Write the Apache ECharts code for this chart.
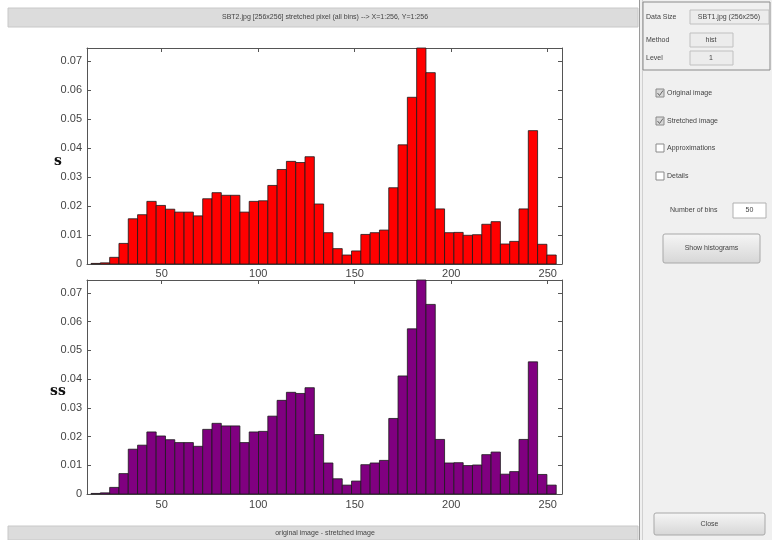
<!DOCTYPE html>
<html>
<head>
<meta charset="utf-8">
<script src="https://cdn.jsdelivr.net/npm/echarts@6/dist/echarts.min.js"></script>
<style>
  html, body { margin: 0; padding: 0; background: #ffffff; }
  #main { width: 772px; height: 540px; }
</style>
</head>
<body>
<div id="main"></div>
<script>
// histogram settings (50 bins)
var binLow = 13.4;
var binWidth = 4.82;
var xMin = 11.3;
var xMax = 257.4;
var yTicks = [0, 0.01, 0.02, 0.03, 0.04, 0.05, 0.06, 0.07];
var xTicks = [50, 100, 150, 200, 250];

// original image (s)
var sValues = [
  0.0002, 0.0004, 0.0023, 0.0071, 0.0156, 0.0170, 0.0216, 0.0202, 0.0189, 0.0179,
  0.0179, 0.0166, 0.0225, 0.0246, 0.0237, 0.0237, 0.0179, 0.0216, 0.0218, 0.0271,
  0.0326, 0.0354, 0.0350, 0.0370, 0.0207, 0.0108, 0.0053, 0.0031, 0.0045, 0.0102,
  0.0108, 0.0117, 0.0263, 0.0411, 0.0575, 0.0745, 0.0660, 0.0190, 0.0108, 0.0109,
  0.0099, 0.0101, 0.0137, 0.0146, 0.0069, 0.0078, 0.0190, 0.0460, 0.0068, 0.0031
];
// stretched image (ss)
var ssValues = [
  0.0002, 0.0004, 0.0023, 0.0071, 0.0156, 0.0170, 0.0216, 0.0202, 0.0189, 0.0179,
  0.0179, 0.0166, 0.0225, 0.0246, 0.0237, 0.0237, 0.0179, 0.0216, 0.0218, 0.0271,
  0.0326, 0.0354, 0.0350, 0.0370, 0.0207, 0.0108, 0.0053, 0.0031, 0.0045, 0.0102,
  0.0108, 0.0117, 0.0263, 0.0411, 0.0575, 0.0745, 0.0660, 0.0190, 0.0108, 0.0109,
  0.0099, 0.0101, 0.0137, 0.0146, 0.0069, 0.0078, 0.0190, 0.0460, 0.0068, 0.0031
];

function toBins(values) {
  return values.map(function (v, i) {
    return [binLow + i * binWidth, binLow + (i + 1) * binWidth, v];
  });
}

function isTick(list, v) {
  for (var i = 0; i < list.length; i++) {
    if (Math.abs(list[i] - v) < 1e-6) return true;
  }
  return false;
}

var axisColor = '#555';
var labelFont = { color: '#444', fontSize: 11, fontFamily: 'Liberation Sans' };

function xAxes(gridIndex, margin) {
  return [{
    type: 'value', gridIndex: gridIndex, position: 'bottom', min: xMin, max: xMax, splitNumber: 5,
    axisLine: { show: true, lineStyle: { color: axisColor } },
    axisTick: { show: true, inside: true, length: 4, lineStyle: { color: axisColor } },
    axisLabel: Object.assign({ margin: margin, formatter: function (v) { return isTick(xTicks, v) ? String(v) : ''; } }, labelFont),
    splitLine: { show: false }
  }, {
    type: 'value', gridIndex: gridIndex, position: 'top', min: xMin, max: xMax, splitNumber: 5,
    axisLine: { show: true, onZero: false, lineStyle: { color: axisColor } },
    axisTick: { show: true, inside: true, length: 4, lineStyle: { color: axisColor } },
    axisLabel: { show: false },
    splitLine: { show: false }
  }];
}

function yAxes(gridIndex) {
  return [{
    type: 'value', gridIndex: gridIndex, position: 'left', min: 0, max: 0.0745, interval: 0.01,
    axisLine: { show: true, lineStyle: { color: axisColor } },
    axisTick: { show: true, inside: true, length: 4, lineStyle: { color: axisColor } },
    axisLabel: Object.assign({ margin: 5, formatter: function (v) {
      if (!isTick(yTicks, v)) return '';
      return v === 0 ? '0' : v.toFixed(2);
    } }, labelFont),
    splitLine: { show: false }
  }, {
    type: 'value', gridIndex: gridIndex, position: 'right', min: 0, max: 0.0745, interval: 0.01,
    axisLine: { show: true, lineStyle: { color: axisColor } },
    axisTick: { show: true, inside: true, length: 4, lineStyle: { color: axisColor } },
    axisLabel: { show: false },
    splitLine: { show: false }
  }];
}

function histSeries(values, color, xi, yi) {
  return {
    type: 'custom',
    xAxisIndex: xi,
    yAxisIndex: yi,
    encode: { x: [0, 1], y: 2 },
    data: toBins(values),
    renderItem: function (params, api) {
      var p0 = api.coord([api.value(0), api.value(2)]);
      var p1 = api.coord([api.value(1), 0]);
      return {
        type: 'rect',
        shape: { x: p0[0], y: p0[1], width: p1[0] - p0[0], height: p1[1] - p0[1] },
        style: { fill: color, stroke: '#1a1a1a', lineWidth: 0.8 }
      };
    }
  };
}

var guiFont = { fill: '#444', fontSize: 7, fontFamily: 'Liberation Sans', verticalAlign: 'middle' };
function guiText(x, y, text, align) {
  return { type: 'text', x: x, y: y, style: Object.assign({ text: text, align: align || 'left' }, guiFont) };
}

// GUI decoration of the MATLAB window
var gui = [
  { type: 'rect', shape: { x: 8, y: 8, width: 630, height: 19 }, style: { fill: '#dcdcdc', stroke: '#c8c8c8' } },
  guiText(325, 17.5, 'SBT2.jpg [256x256] stretched pixel (all bins) --> X=1:256, Y=1:256', 'center'),
  { type: 'rect', shape: { x: 8, y: 526, width: 630, height: 14 }, style: { fill: '#dcdcdc', stroke: '#c8c8c8' } },
  guiText(325, 533, 'original image - stretched image', 'center'),

  // y labels
  { type: 'text', x: 58, y: 161, style: { text: 's', fill: '#111', fontSize: 14, fontWeight: 'bold', fontFamily: 'DejaVu Serif', align: 'center', verticalAlign: 'middle' } },
  { type: 'text', x: 58, y: 391, style: { text: 'ss', fill: '#111', fontSize: 14, fontWeight: 'bold', fontFamily: 'DejaVu Serif', align: 'center', verticalAlign: 'middle' } },

  { type: 'rect', shape: { x: 639, y: 0, width: 133, height: 540 }, style: { fill: '#f0f0f0' } },
  { type: 'line', shape: { x1: 639.5, y1: 0, x2: 639.5, y2: 540 }, style: { stroke: '#9a9a9a', lineWidth: 1 } },
  { type: 'line', shape: { x1: 642.5, y1: 0, x2: 642.5, y2: 540 }, style: { stroke: '#d0d0d0', lineWidth: 1 } },
  { type: 'rect', shape: { x: 643, y: 2, width: 127, height: 68 }, style: { fill: 'none', stroke: '#8a8a8a', lineWidth: 1 } },

  guiText(646, 17, 'Data Size'),
  { type: 'rect', shape: { x: 690, y: 10, width: 79, height: 14 }, style: { fill: '#ececec', stroke: '#c0c0c0' } },
  guiText(729, 17, 'SBT1.jpg (256x256)', 'center'),
  guiText(646, 40, 'Method'),
  { type: 'rect', shape: { x: 690, y: 33, width: 43, height: 14 }, style: { fill: '#ececec', stroke: '#c0c0c0' } },
  guiText(711, 40, 'hist', 'center'),
  guiText(646, 58, 'Level'),
  { type: 'rect', shape: { x: 690, y: 51, width: 43, height: 14 }, style: { fill: '#ececec', stroke: '#c0c0c0' } },
  guiText(711, 58, '1', 'center')
];

var checks = [
  { label: 'Original image', y: 93, on: true },
  { label: 'Stretched image', y: 121, on: true },
  { label: 'Approximations', y: 148, on: false },
  { label: 'Details', y: 176, on: false }
];
checks.forEach(function (c) {
  gui.push({ type: 'rect', shape: { x: 656, y: c.y - 4, width: 8, height: 8 }, style: { fill: c.on ? '#d8d8d8' : '#ffffff', stroke: '#8a8a8a' } });
  if (c.on) {
    gui.push({ type: 'polyline', shape: { points: [[657.5, c.y], [659.5, c.y + 2.5], [663, c.y - 2.5]] }, style: { stroke: '#666', lineWidth: 1, fill: 'none' } });
  }
  gui.push(guiText(667, c.y, c.label));
});

var btnFill = { type: 'linear', x: 0, y: 0, x2: 0, y2: 1, colorStops: [{ offset: 0, color: '#f6f6f6' }, { offset: 1, color: '#d6d6d6' }] };
gui.push(
  guiText(670, 210, 'Number of bins'),
  { type: 'rect', shape: { x: 733, y: 203, width: 33, height: 15 }, style: { fill: '#ffffff', stroke: '#b0b0b0' } },
  guiText(749.5, 210.5, '50', 'center'),
  { type: 'rect', shape: { x: 663, y: 234, width: 97, height: 29, r: 2 }, style: { fill: btnFill, stroke: '#a8a8a8' } },
  guiText(711.5, 248.5, 'Show histograms', 'center'),
  { type: 'rect', shape: { x: 654, y: 513, width: 111, height: 22, r: 2 }, style: { fill: btnFill, stroke: '#a8a8a8' } },
  guiText(709.5, 524, 'Close', 'center')
);

var chart = echarts.init(document.getElementById('main'), null, { renderer: 'canvas' });

var option = {
  backgroundColor: '#ffffff',
  animation: false,
  grid: [
    { left: 87, top: 48, right: 210, height: 216 },
    { left: 87, top: 280, right: 210, height: 214 }
  ],
  xAxis: xAxes(0, 4).concat(xAxes(1, 5)),
  yAxis: yAxes(0).concat(yAxes(1)),
  series: [
    histSeries(sValues, '#ff0000', 0, 0),
    histSeries(ssValues, '#800080', 2, 2)
  ],
  graphic: gui
};

chart.setOption(option);
</script>
</body>
</html>
